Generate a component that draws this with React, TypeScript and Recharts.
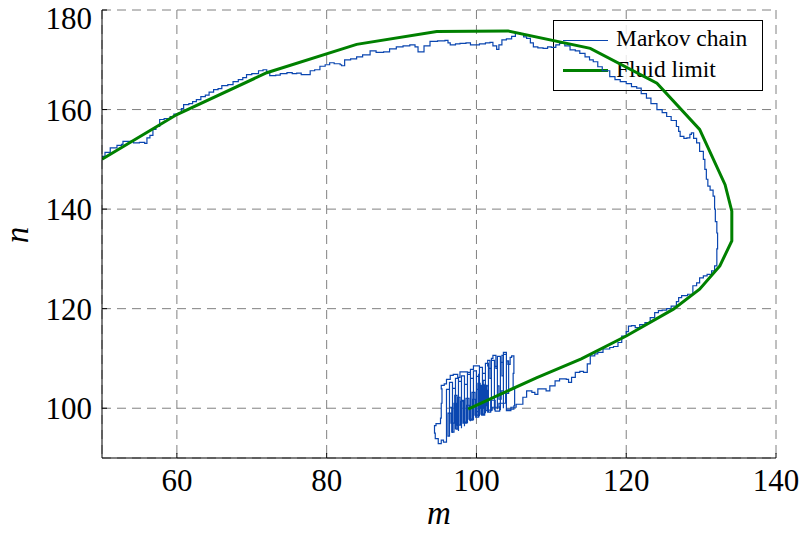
import React from 'react';
import { ComposedChart, Line, XAxis, YAxis, CartesianGrid, Customized } from 'recharts';

// Axis ticks
const xTicks = [60, 80, 100, 120, 140];
const yTicks = [100, 120, 140, 160, 180];

// Fluid limit trajectory (m, n)
const fluidM = [50, 60, 72, 84, 94.7, 104.2, 115.2, 124.1, 129.8, 133.2, 134.1, 134.1, 132.5, 129.8, 126.3, 120, 114, 108, 102, 98.9];
const fluidN = [150, 159, 167.4, 173.1, 175.7, 175.8, 172.3, 165.3, 156, 144.9, 139.6, 133.6, 128.6, 123.9, 119.9, 114.5, 109.9, 106.1, 102, 99.8];

// Markov chain sample path, split into stretches (m, n)
const chainUpper: [number, number][] = [
  [50.0, 150.6], [50.4, 151.4], [50.9, 151.4], [51.1, 152.3], [51.8, 152.3], [52.0, 152.8], [52.6, 153.0],
  [52.8, 153.6], [53.6, 153.6], [54.2, 153.3], [55.0, 153.4], [55.7, 153.2], [56.0, 154.3], [56.4, 154.8],
  [56.8, 156.0], [57.2, 156.6], [57.7, 158.0], [58.3, 158.2], [59.1, 158.6], [59.6, 159.1], [60.2, 159.3],
  [60.6, 160.2], [60.9, 161.0], [61.6, 161.2], [62.1, 161.6], [62.6, 162.0], [63.2, 162.6], [63.8, 162.9],
  [64.3, 163.5], [64.9, 164.0], [65.5, 164.2], [66.0, 164.8], [66.8, 165.0], [67.5, 165.6], [68.2, 166.0],
  [68.8, 166.4], [69.3, 167.0], [70.0, 167.2], [70.9, 167.8], [71.5, 168.0], [72.0, 167.6], [72.4, 166.8],
  [73.2, 166.9], [73.8, 167.2], [74.7, 167.4], [75.4, 167.2], [76.0, 167.3], [76.6, 167.0], [77.3, 167.0],
  [77.8, 167.8], [78.4, 168.0], [79.1, 168.7], [79.8, 169.0], [80.4, 169.4], [81.0, 169.2], [81.8, 169.0],
  [82.0, 168.8], [82.4, 170.0], [83.2, 170.2], [84.0, 170.6], [84.8, 171.0], [85.8, 171.8], [86.6, 171.5],
  [87.6, 171.6], [88.4, 172.2], [89.3, 172.6], [90.2, 172.8], [91.1, 173.0], [91.8, 172.6], [92.2, 171.6],
  [92.7, 171.6], [93.0, 172.8], [93.8, 173.7], [94.8, 173.8], [95.8, 173.9], [96.2, 173.4], [96.5, 173.0],
  [97.2, 173.2], [97.8, 173.3], [98.6, 173.4], [99.2, 173.0], [99.6, 173.0], [100.4, 173.2], [101.2, 173.4],
  [101.8, 173.5], [102.2, 172.8], [102.7, 172.1], [103.0, 173.0], [103.4, 174.0], [104.0, 174.2],
  [104.7, 174.7], [105.2, 175.4], [105.8, 175.2],
];

const chainRight: [number, number][] = [
  [106.3, 174.6], [106.7, 174.3], [107.2, 173.4], [107.6, 172.6], [108.2, 172.4], [108.9, 172.3],
  [109.5, 172.6], [110.0, 172.5], [110.6, 173.0], [111.1, 173.3], [111.8, 172.8], [112.5, 172.0],
  [113.2, 171.8], [113.8, 171.3], [114.5, 170.6], [115.1, 170.0], [115.6, 169.6], [116.2, 168.6],
  [116.8, 167.8], [117.8, 166.6], [118.5, 166.0], [119.2, 165.6], [120.0, 165.2], [120.7, 164.6],
  [121.4, 164.3], [122.0, 163.2], [122.7, 162.3], [123.3, 161.2], [124.1, 160.0], [124.8, 159.4],
  [125.4, 158.6], [126.0, 157.8], [126.7, 156.6], [127.0, 155.6], [127.2, 154.6], [127.7, 154.2],
  [128.1, 154.3], [128.5, 155.0], [128.7, 155.3], [129.0, 154.2], [129.4, 153.3], [129.8, 151.6],
  [130.3, 150.0], [130.5, 148.0], [130.7, 146.0], [130.9, 144.6], [131.2, 143.8], [131.6, 142.6],
  [131.8, 140.0], [131.9, 137.5], [132.1, 135.2], [132.2, 132.0], [132.1, 128.6],
];

const chainLower: [number, number][] = [
  [131.8, 127.6], [131.4, 126.9], [130.8, 126.6], [130.3, 126.2], [129.8, 125.2], [129.4, 124.6],
  [128.9, 122.9], [128.2, 122.6], [127.4, 122.2], [127.0, 121.4], [126.7, 120.5], [126.0, 120.0],
  [125.4, 119.7], [124.8, 119.6], [124.3, 119.2], [123.8, 118.2], [123.2, 117.2], [122.5, 116.8],
  [121.8, 116.2], [121.2, 116.6], [120.7, 116.5], [120.3, 115.4], [120.0, 114.5], [119.4, 113.2],
  [118.9, 112.4], [118.3, 112.2], [117.8, 111.9], [116.9, 111.2], [116.2, 110.9], [115.8, 110.5],
  [115.2, 108.9], [114.8, 107.2], [114.3, 107.4], [113.8, 107.2], [113.2, 106.2], [112.7, 105.2],
  [112.3, 105.8], [112.0, 105.9], [111.1, 105.5], [110.5, 104.5], [109.8, 103.5], [109.3, 103.9],
  [108.9, 103.9], [108.2, 102.8], [107.8, 103.2], [107.4, 103.5], [106.7, 102.2], [106.2, 100.8],
  [105.3, 100.2], [104.6, 99.5], [104.0, 99.8],
];

// Wandering around the equilibrium point near (100, 100)
const chainCluster: [number, number][] = [
  [105.0, 100.5], [105.1, 104.0], [104.9, 107.0], [105.0, 110.5], [104.7, 110.2], [104.5, 108.8],
  [104.2, 109.5], [104.0, 111.2], [103.6, 110.6], [103.4, 106.5], [103.6, 103.5], [103.3, 101.8],
  [103.0, 104.5], [102.8, 108.0], [102.6, 110.6], [102.2, 110.0], [102.0, 106.0], [101.8, 109.6],
  [101.5, 108.5], [101.6, 104.5], [101.3, 100.5], [101.0, 104.8], [100.8, 99.0], [100.6, 104.5],
  [100.4, 98.5], [100.2, 105.0], [100.5, 100.0], [100.9, 105.6], [101.2, 99.5], [101.4, 104.6],
  [101.1, 98.6], [100.7, 103.2], [100.3, 99.3], [100.0, 103.8], [100.3, 106.8], [100.4, 108.5],
  [99.6, 107.8], [99.2, 106.8], [98.8, 107.3], [98.2, 107.3], [97.8, 106.2], [97.5, 106.8],
  [96.9, 106.6], [96.5, 105.8], [96.0, 104.9], [95.7, 104.6], [95.3, 103.9], [95.4, 101.0],
  [95.3, 98.0], [95.2, 96.9], [94.6, 96.5], [94.4, 95.0], [94.5, 93.9], [94.9, 92.9], [95.3, 93.6],
  [95.6, 93.2], [96.0, 94.5], [96.0, 103.8], [96.4, 96.2], [96.4, 105.2], [96.8, 95.0], [96.8, 104.0],
  [97.2, 95.8], [97.2, 106.0], [97.6, 95.4], [97.6, 105.4], [98.0, 96.0], [98.0, 106.5], [98.4, 96.4],
  [98.4, 104.8], [98.8, 97.0], [98.8, 107.2], [99.2, 97.4], [99.2, 106.0], [99.6, 97.6], [99.6, 107.5],
  [100.0, 98.2], [100.0, 106.4], [100.4, 98.4], [100.4, 108.2], [100.8, 98.6], [100.8, 107.0],
  [101.2, 99.0], [101.2, 109.0], [101.6, 99.2], [101.6, 108.0], [102.0, 99.4], [102.0, 109.6],
  [102.4, 99.6], [102.4, 108.4], [102.8, 99.8], [102.8, 110.4], [103.2, 99.6], [103.2, 109.2],
  [103.6, 100.0], [103.6, 110.8], [104.0, 99.8], [104.0, 109.5], [104.3, 103.0], [103.9, 101.0],
  [103.0, 100.2], [102.1, 99.6], [101.5, 102.8], [101.0, 98.8], [100.6, 104.2], [100.2, 98.6],
  [99.8, 103.2], [99.4, 97.8], [99.0, 102.0], [98.6, 97.2], [98.3, 101.6], [98.0, 96.6], [97.8, 102.2],
  [97.5, 95.8], [97.3, 101.0], [97.0, 95.2], [96.7, 100.2], [96.4, 94.4], [96.2, 99.0], [96.6, 97.0],
  [97.1, 102.6], [97.4, 96.6], [97.9, 101.4], [98.2, 97.0], [98.7, 100.6], [99.1, 97.6], [99.5, 101.8],
  [99.9, 98.2], [100.3, 104.6], [100.7, 98.8], [101.1, 103.6], [101.5, 99.2], [101.9, 101.6],
  [102.5, 99.4], [103.1, 100.4],
];

const chainPoints = [...chainUpper, ...chainRight, ...chainLower, ...chainCluster].map(([m, n]) => ({ m, n }));
const fluidPoints = fluidM.map((m, i) => ({ m, n: fluidN[i] }));

const CHAIN_COLOR = '#0a46b0';
const FLUID_COLOR = '#008000';
const SERIF = "'Liberation Serif', serif";

const tickStyle = { fontFamily: SERIF, fontSize: 31, fill: '#000' };

// Axis titles and the legend box, drawn on top of the plot
const Overlay = () => (
  <g>
    <text x={439} y={524} textAnchor="middle" fontFamily={SERIF} fontStyle="italic" fontSize={33} fill="#000">m</text>
    <text x={28} y={235} textAnchor="middle" fontFamily={SERIF} fontStyle="italic" fontSize={33} fill="#000" transform="rotate(-90, 28, 235)">n</text>
    <rect x={553.5} y={20.5} width={209} height={70} fill="#fff" fillOpacity={0.82} stroke="#000" strokeWidth={1} />
    <line x1={563} y1={40.5} x2={608} y2={40.5} stroke={CHAIN_COLOR} strokeWidth={1} />
    <text x={616} y={46} fontFamily={SERIF} fontSize={23.5} fill="#000">Markov chain</text>
    <line x1={563} y1={70.5} x2={608} y2={70.5} stroke={FLUID_COLOR} strokeWidth={3} />
    <text x={616} y={77} fontFamily={SERIF} fontSize={23.5} fill="#000">Fluid limit</text>
  </g>
);

export default function App() {
  return (
    <div style={{ position: 'absolute', left: 0, top: 0, fontFamily: SERIF }}>
      <ComposedChart width={802} height={533} margin={{ top: 10, right: 26, bottom: 15, left: 0 }}>
        <CartesianGrid stroke="#808080" strokeDasharray="9 6" strokeWidth={1} />
        <XAxis
          dataKey="m"
          type="number"
          domain={[50, 140]}
          ticks={xTicks}
          allowDataOverflow
          height={60}
          tickSize={-5}
          tickMargin={16}
          tick={tickStyle}
          axisLine={{ stroke: '#000' }}
          tickLine={{ stroke: '#000' }}
        />
        <XAxis
          xAxisId="top"
          orientation="top"
          type="number"
          domain={[50, 140]}
          ticks={xTicks}
          allowDataOverflow
          height={0}
          tickSize={-5}
          tick={false}
          axisLine={{ stroke: '#000' }}
          tickLine={{ stroke: '#000' }}
        />
        <YAxis
          dataKey="n"
          type="number"
          domain={[90, 180]}
          ticks={yTicks}
          allowDataOverflow
          width={102}
          tickSize={-5}
          tickMargin={15}
          tick={tickStyle}
          axisLine={{ stroke: '#000' }}
          tickLine={{ stroke: '#000' }}
        />
        <YAxis
          yAxisId="right"
          orientation="right"
          type="number"
          domain={[90, 180]}
          ticks={yTicks}
          allowDataOverflow
          width={0}
          tickSize={-5}
          tick={false}
          axisLine={{ stroke: '#000' }}
          tickLine={{ stroke: '#000' }}
        />
        <Line
          data={chainPoints}
          dataKey="n"
          type="stepAfter"
          stroke={CHAIN_COLOR}
          strokeWidth={1.2}
          dot={false}
          activeDot={false}
          isAnimationActive={false}
        />
        <Line
          data={fluidPoints}
          dataKey="n"
          type="linear"
          stroke={FLUID_COLOR}
          strokeWidth={3}
          dot={false}
          activeDot={false}
          isAnimationActive={false}
        />
        <Customized component={Overlay} />
      </ComposedChart>
    </div>
  );
}
